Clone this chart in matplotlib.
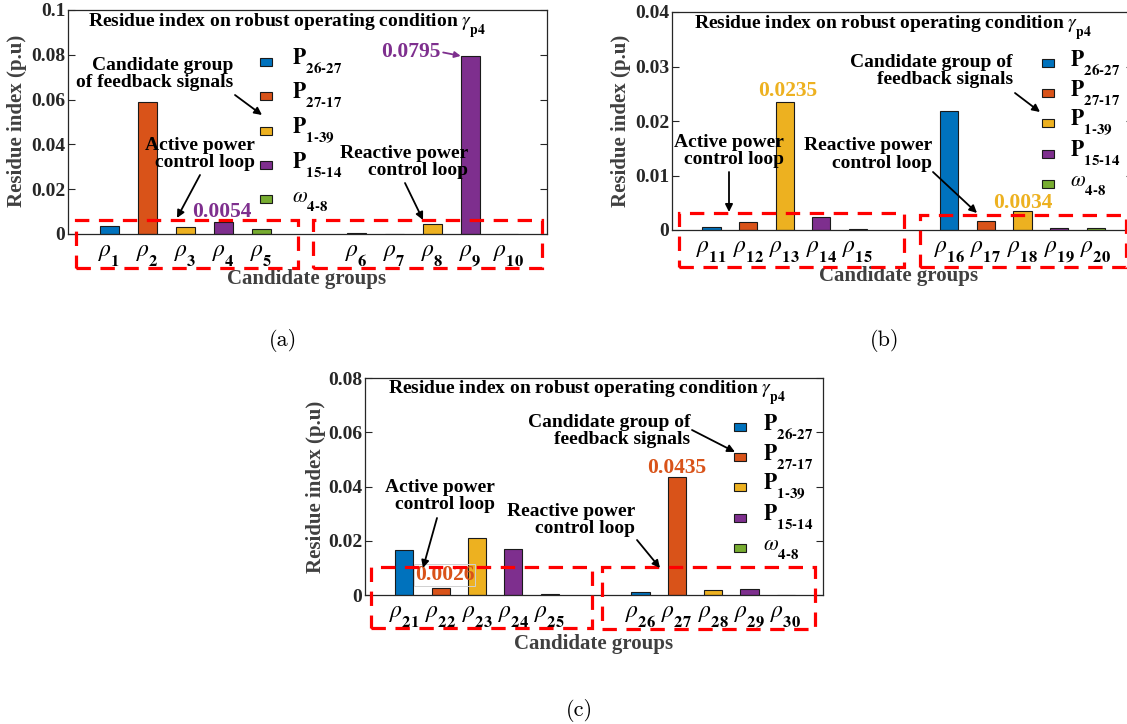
import matplotlib
matplotlib.use('Agg')
import matplotlib.pyplot as plt
from matplotlib.patches import Rectangle, FancyArrowPatch
import numpy as np

try:
    import matplotlib._mathtext as _mt
    _mt.STIXFontConstants.sub1 = 0.95
except Exception:
    pass

plt.rcParams['font.family'] = ['Liberation Serif', 'DejaVu Serif']
plt.rcParams['mathtext.fontset'] = 'stix'

W, H = 1127, 724

# ---------------- data ----------------
series_labels = [r'$\mathbf{P}_{\mathbf{26‐27}}$', r'$\mathbf{P}_{\mathbf{27‐17}}$',
                 r'$\mathbf{P}_{\mathbf{1‐39}}$', r'$\mathbf{P}_{\mathbf{15‐14}}$',
                 r'$\omega_{\mathbf{4‐8}}$']
series_colors = ['#0072BD', '#D95319', '#EDB120', '#7E2F8E', '#77AC30']
series_of_group = [0, 1, 2, 3, 4, 0, 1, 2, 3, 4]

groups_a = list(range(1, 11))
groups_b = list(range(11, 21))
groups_c = list(range(21, 31))

values_a = [0.0036, 0.0590, 0.0033, 0.0054, 0.0021, 0.0003, 0.0002, 0.0045, 0.0795, 0.0002]
values_b = [0.0006, 0.0015, 0.0235, 0.0023, 0.0001, 0.0219, 0.0017, 0.0034, 0.0004, 0.0003]
values_c = [0.0166, 0.0026, 0.0209, 0.0170, 0.0002, 0.0010, 0.0435, 0.0018, 0.0021, 0.0001]

yticks_a = [0, 0.02, 0.04, 0.06, 0.08, 0.1]
yticks_b = [0, 0.01, 0.02, 0.03, 0.04]
yticks_c = [0, 0.02, 0.04, 0.06, 0.08]

title_text = r'Residue index on robust operating condition $\gamma_{\mathbf{p4}}$'
ylabel_text = 'Residue index (p.u)'
xlabel_text = 'Candidate groups'

# ---------------- helpers ----------------
def fx(x):
    return x / W

def fy(y):
    return 1 - y / H

def fmt_tick(v):
    s = ('%.2f' % v).rstrip('0').rstrip('.')
    return s if s else '0'

fig = plt.figure(figsize=(W / 100, H / 100), dpi=100)
fig.patch.set_facecolor('white')

positions = np.r_[np.arange(1, 6), np.arange(1, 6) + 6.5]
AXC = '#262626'
LBLC = '#404040'


def make_panel(rect, groups, values, yticks, ylim):
    ax = fig.add_axes(rect)
    vals = np.array(values)
    sidx = np.array(series_of_group)
    for s, (lab, col) in enumerate(zip(series_labels, series_colors)):
        m = sidx == s
        ax.bar(positions[m], vals[m], width=0.5, color=col, edgecolor='#1a1a1a',
               linewidth=0.8, label=lab, zorder=2)
    ax.set_xlim(-0.08, 12.52)
    ax.set_ylim(*ylim)
    ax.set_yticks(yticks, labels=[fmt_tick(v) for v in yticks])
    ax.set_xticks(positions, labels=[r'$\rho_{\mathbf{%d}}$' % g for g in groups])
    ax.tick_params(axis='y', direction='in', left=True, right=True, length=5,
                   width=0.8, pad=2, labelsize=14, colors=AXC)
    ax.tick_params(axis='x', length=0, pad=7, labelsize=17, colors='black')
    for lab in ax.get_yticklabels():
        lab.set_fontweight('bold')
    for sp in ax.spines.values():
        sp.set_linewidth(0.9)
        sp.set_color(AXC)
    return ax


def legend_manual(ax, x_marker, x_text, rows):
    for lab, col, y in zip(series_labels, series_colors, rows):
        fig.add_artist(Rectangle((fx(x_marker - 6), fy(y + 4)), 12 / W, 8 / H,
                                 transform=fig.transFigure, facecolor=col,
                                 edgecolor='#1a1a1a', linewidth=0.8, zorder=4))
        fig.text(fx(x_text), fy(y + 3), lab, fontsize=15.5, fontweight='bold',
                 ha='left', va='baseline', zorder=4)


def box(x0, y0, x1, y1):
    fig.add_artist(Rectangle((fx(x0), fy(y1)), (x1 - x0) / W, (y1 - y0) / H,
                             transform=fig.transFigure, fill=False,
                             edgecolor='#FF0000', linewidth=2.3,
                             linestyle=(0, (4.5, 3.0)), zorder=5))


def note(text, xr, yc):
    fig.text(fx(xr), fy(yc), text, fontsize=14, fontweight='bold', ha='right',
             va='center', multialignment='right', linespacing=1.05, zorder=4)


def arrow(x0, y0, x1, y1, color='black'):
    fig.add_artist(FancyArrowPatch(
        (fx(x0), fy(y0)), (fx(x1), fy(y1)), transform=fig.transFigure,
        arrowstyle='-|>', mutation_scale=11, color=color, linewidth=1.3,
        shrinkA=0, shrinkB=0, zorder=6))


def value_label(ax, i, values, color, dx, dy, boxed=False):
    kw = {}
    if boxed:
        kw['bbox'] = dict(boxstyle='square,pad=0.05', fc='none', ec='#d0d0d0', lw=0.7)
    ax.annotate('%.4f' % values[i], xy=(positions[i], values[i]), xycoords='data',
                xytext=(dx, dy), textcoords='offset pixels', ha='center', va='center',
                fontsize=15.5, fontweight='bold', color=color, zorder=7,
                annotation_clip=False, **kw)


def panel_texts(ax, title_xy, ylab_xy, xlab_xy):
    fig.text(fx(title_xy[0]), fy(title_xy[1]), title_text, fontsize=14,
             fontweight='bold', ha='left', va='center', zorder=4)
    fig.text(fx(ylab_xy[0]), fy(ylab_xy[1]), ylabel_text, fontsize=15,
             fontweight='bold', rotation=90, ha='center', va='center', color=LBLC)
    fig.text(fx(xlab_xy[0]), fy(xlab_xy[1]), xlabel_text, fontsize=15,
             fontweight='bold', ha='center', va='center', color=LBLC)


# ---------------- panel (a) ----------------
ax_a = make_panel([fx(68), fy(234), 479 / W, 224 / H], groups_a, values_a, yticks_a, (0, 0.1))
panel_texts(ax_a, (88, 26), (17, 121), (307, 279))
legend_manual(ax_a, 266, 292, [62, 96, 131, 165, 199])
note('Candidate group\nof feedback signals', 233, 74)
note('Active power\ncontrol loop', 255, 154)
note('Reactive power\ncontrol loop', 468, 162)
arrow(235, 95, 262, 115)
arrow(200, 175, 177, 218)
arrow(405, 183, 423, 220)
value_label(ax_a, 3, values_a, '#7E2F8E', -1, 10)
ax_a.annotate('%.4f' % values_a[8], xy=(positions[8] - 0.25, values_a[8]),
              xycoords='data', xytext=(-50, 4), textcoords='offset pixels',
              ha='center', va='center', fontsize=15.5, fontweight='bold',
              color='#7E2F8E', zorder=7,
              arrowprops=dict(arrowstyle='-|>', color='#7E2F8E', lw=1.3,
                              mutation_scale=9, shrinkA=0, shrinkB=0,
                              relpos=(1, 0.5)))
box(76, 220, 298, 268)
box(313, 220, 542, 268)
fig.text(fx(283), fy(341), '(a)', family='cmr10', fontsize=16, ha='center', va='center')

# ---------------- panel (b) ----------------
ax_b = make_panel([fx(672), fy(230), 461 / W, 218 / H], groups_b, values_b, yticks_b, (0, 0.04))
panel_texts(ax_b, (694, 28), (621, 121), (899, 276))
legend_manual(ax_b, 1048, 1070, [63, 93, 123, 154, 184])
note('Candidate group of\nfeedback signals', 1013, 71)
note('Active power\ncontrol loop', 784, 151)
note('Reactive power\ncontrol loop', 932, 154.5)
arrow(1015, 93, 1040, 112)
arrow(729, 172, 729, 212)
arrow(933, 172, 977, 213)
value_label(ax_b, 2, values_b, '#EDB120', 3, 11)
value_label(ax_b, 7, values_b, '#EDB120', 0, 8)
box(679, 213, 904, 267)
box(920, 215, 1126, 267)
fig.text(fx(885), fy(341), '(b)', family='cmr10', fontsize=16, ha='center', va='center')

# ---------------- panel (c) ----------------
ax_c = make_panel([fx(365), fy(595), 458 / W, 217 / H], groups_c, values_c, yticks_c, (0, 0.08))
panel_texts(ax_c, (388, 393), (316, 487), (594, 644))
legend_manual(ax_c, 740, 763, [427, 457, 487, 518, 548])
note('Candidate group of\nfeedback signals', 690, 431)
note('Active power\ncontrol loop', 495, 496)
note('Reactive power\ncontrol loop', 635, 520)
arrow(692, 430, 735, 452)
arrow(437, 518, 423, 568)
arrow(637, 540, 660, 568)
value_label(ax_c, 1, values_c, '#D95319', 4, 13, boxed=True)
value_label(ax_c, 6, values_c, '#D95319', 0, 9)
box(371, 567, 592, 628)
box(602, 567, 815, 629)
fig.text(fx(579), fy(710), '(c)', family='cmr10', fontsize=16, ha='center', va='center')

fig.savefig('out.png', dpi=100, facecolor='white')
